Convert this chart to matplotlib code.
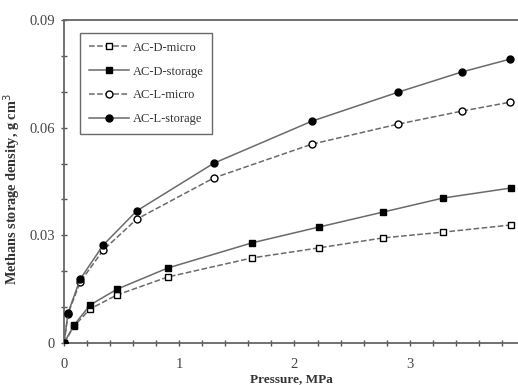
import matplotlib
matplotlib.use("Agg")
import matplotlib.pyplot as plt
from matplotlib.ticker import MultipleLocator, FuncFormatter
plt.rc("font", family="Liberation Serif")

# pressure (MPa) and methane storage density (g cm^-3)
p_D = [0.0, 0.087, 0.226, 0.46, 0.90, 1.63, 2.21, 2.77, 3.29, 3.88]
D_micro = [0.0, 0.0047, 0.0095, 0.0134, 0.0184, 0.0237, 0.0265, 0.0293, 0.0309, 0.0329]
D_storage = [0.0, 0.0050, 0.0106, 0.0150, 0.0209, 0.0279, 0.0323, 0.0365, 0.0404, 0.0432]

p_L = [0.0, 0.035, 0.14, 0.34, 0.63, 1.30, 2.15, 2.90, 3.45, 3.87]
L_micro = [0.0, 0.0082, 0.0170, 0.0259, 0.0345, 0.0460, 0.0554, 0.0610, 0.0646, 0.0671]
L_storage = [0.0, 0.0084, 0.0178, 0.0273, 0.0368, 0.0501, 0.0618, 0.0699, 0.0755, 0.0791]

lcol = '#6a6a6a'

fig = plt.figure(figsize=(5.18, 3.85), dpi=100)
ax = fig.add_axes([0.1236, 0.109, 0.8764, 0.839])

ax.plot(p_D, D_micro, ls='--', c=lcol, lw=1.1, marker='s', ms=5,
        mfc='white', mec='k', mew=1.0, label='AC-D-micro', zorder=3)
ax.plot(p_D, D_storage, ls='-', c=lcol, lw=1.1, marker='s', ms=5,
        mfc='k', mec='k', label='AC-D-storage', zorder=4)
ax.plot(p_L, L_micro, ls='--', c=lcol, lw=1.1, marker='o', ms=5,
        mfc='white', mec='k', mew=1.0, label='AC-L-micro', zorder=3)
ax.plot(p_L, L_storage, ls='-', c=lcol, lw=1.1, marker='o', ms=5,
        mfc='k', mec='k', label='AC-L-storage', zorder=4)

ax.set_xlim(0, 3.94)
ax.set_ylim(0, 0.09)
ax.xaxis.set_major_locator(MultipleLocator(1))
ax.xaxis.set_minor_locator(MultipleLocator(0.2))
ax.yaxis.set_major_locator(MultipleLocator(0.03))
ax.yaxis.set_minor_locator(MultipleLocator(0.01))
ax.yaxis.set_major_formatter(FuncFormatter(lambda v, pos: '0' if v == 0 else '%.2f' % v))
ax.tick_params(which='both', direction='inout', colors='#555555',
               labelcolor='#444444', labelsize=10.5)
ax.tick_params(which='major', length=5, width=1)
ax.tick_params(axis='y', which='major', pad=4)
ax.tick_params(axis='x', which='major', pad=8)
ax.tick_params(which='minor', length=4, width=1)
ax.spines['right'].set_visible(False)
for s in ['left', 'bottom', 'top']:
    ax.spines[s].set_color('#666666')
    ax.spines[s].set_linewidth(1.3)

ax.set_xlabel("Pressure, MPa", fontsize=9.5, fontweight='bold', labelpad=2, color='#333333')
ax.set_ylabel("Methans storage density, g cm$^3$",
              fontsize=10.3, fontweight='bold', color='#333333')
ax.yaxis.set_label_coords(-0.09, 0.475)

leg = ax.legend(loc='upper left', bbox_to_anchor=(0.035, 0.96), borderaxespad=0,
                fontsize=9, frameon=True, fancybox=False, handlelength=3.2,
                labelspacing=0.95, borderpad=0.7, handletextpad=0.3)
leg.get_frame().set_edgecolor('#444444')
leg.get_frame().set_linewidth(1.0)
for t in leg.get_texts():
    t.set_color('#333333')

fig.savefig("out.png", dpi=100)
